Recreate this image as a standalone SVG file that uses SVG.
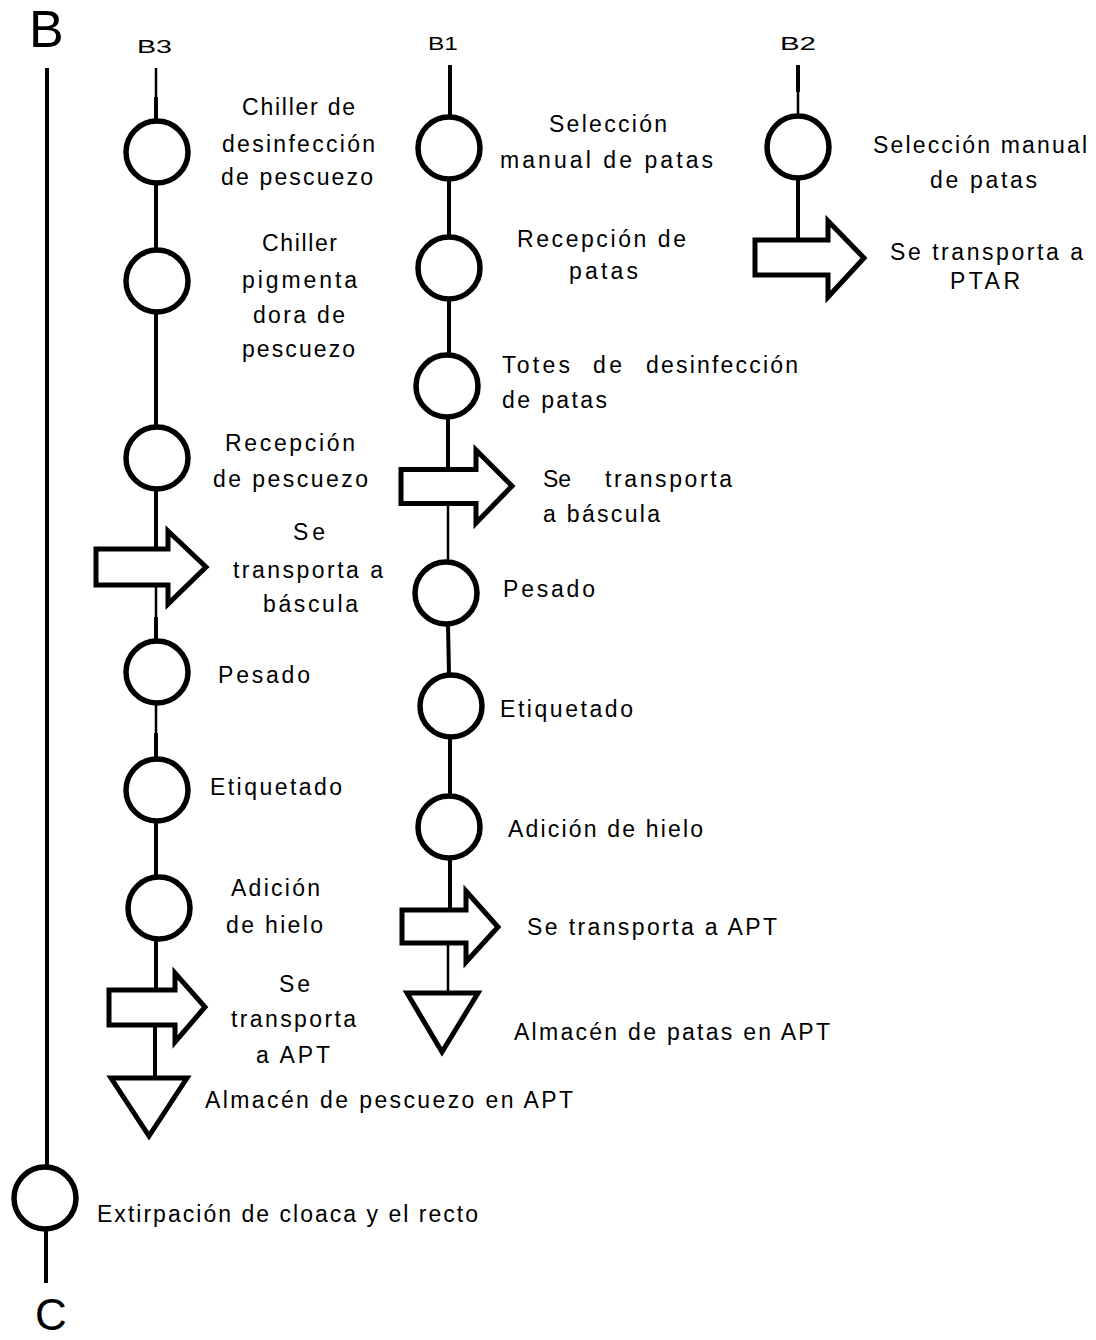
<svg xmlns="http://www.w3.org/2000/svg" width="1096" height="1340" viewBox="0 0 1096 1340">
  <style>
    .bg { fill: #ffffff; }
    .lbl { font-family: "Liberation Sans", Arial, sans-serif; font-size: 23px; fill: #000000; }
    .hdr { font-family: "Liberation Sans", Arial, sans-serif; font-size: 19px; fill: #000000; }
    .big { font-family: "Liberation Sans", Arial, sans-serif; fill: #000000; }
    .op { fill: #ffffff; stroke: #000000; stroke-width: 5.5; }
    .mv { fill: #ffffff; stroke: #000000; stroke-width: 5; stroke-linejoin: miter; stroke-miterlimit: 10; }
    .st { fill: #ffffff; stroke: #000000; stroke-width: 5; stroke-linejoin: miter; stroke-miterlimit: 10; }
    .ln { stroke: #000000; stroke-width: 4; fill: none; }
    .thin { stroke: #000000; stroke-width: 2.5; fill: none; }
  </style>

  <rect class="bg" x="0" y="0" width="1096" height="1340"/>

  <!-- column and main-line headings -->
  <g id="headings">
    <text class="big" x="29" y="47" font-size="52">B</text>
    <text class="big" x="35" y="1330" font-size="44">C</text>
    <text class="hdr" x="137" y="53" textLength="35" lengthAdjust="spacingAndGlyphs">B3</text>
    <text class="hdr" x="428" y="50" textLength="30" lengthAdjust="spacingAndGlyphs">B1</text>
    <text class="hdr" x="780" y="50" textLength="36" lengthAdjust="spacingAndGlyphs">B2</text>
  </g>

  <!-- flow lines -->
  <g id="connectors">
    <!-- main line B to C -->
    <line class="ln" x1="47" y1="68" x2="47" y2="1166"/>
    <line class="ln" x1="46" y1="1230" x2="46" y2="1283"/>

    <!-- B3 -->
    <line class="thin" x1="156" y1="68" x2="156" y2="97"/>
    <line class="ln" x1="156" y1="97" x2="156" y2="121"/>
    <line class="ln" x1="156" y1="183" x2="156" y2="250"/>
    <line class="ln" x1="156" y1="312" x2="156" y2="427"/>
    <line class="ln" x1="156" y1="489" x2="156" y2="550"/>
    <line class="thin" x1="156" y1="585" x2="156" y2="617"/>
    <line class="ln" x1="156" y1="617" x2="156" y2="641"/>
    <line class="thin" x1="156" y1="703" x2="156" y2="733"/>
    <line class="ln" x1="156" y1="733" x2="156" y2="759"/>
    <line class="ln" x1="156" y1="821" x2="156" y2="877"/>
    <line class="ln" x1="156" y1="939" x2="156" y2="991"/>
    <line class="ln" x1="155" y1="1024" x2="155" y2="1078"/>

    <!-- B1 -->
    <line class="ln" x1="450" y1="65" x2="450" y2="117"/>
    <line class="ln" x1="449" y1="179" x2="449" y2="237"/>
    <line class="ln" x1="449" y1="299" x2="449" y2="355"/>
    <line class="ln" x1="448" y1="417" x2="448" y2="470"/>
    <line class="thin" x1="448" y1="503" x2="448" y2="562"/>
    <line class="ln" x1="448" y1="624" x2="449" y2="675"/>
    <line class="ln" x1="450" y1="737" x2="450" y2="796"/>
    <line class="ln" x1="450" y1="858" x2="450" y2="911"/>
    <line class="thin" x1="448" y1="942" x2="448" y2="993"/>

    <!-- B2 -->
    <line class="ln" x1="798" y1="65" x2="798" y2="92"/>
    <line class="thin" x1="798" y1="92" x2="798" y2="116"/>
    <line class="ln" x1="798" y1="178" x2="798" y2="240"/>
  </g>

  <!-- main line -->
  <g id="main-extirpacion">
    <circle class="op" cx="45" cy="1198" r="31"/>
    <text class="lbl" x="97" y="1222" textLength="381" lengthAdjust="spacing">Extirpación de cloaca y el recto</text>
  </g>

  <!-- B3: neck line -->
  <g id="b3-chiller-desinfeccion">
    <circle class="op" cx="157" cy="152" r="31"/>
    <text class="lbl" x="242" y="115" textLength="113" lengthAdjust="spacing">Chiller de</text>
    <text class="lbl" x="222" y="152" textLength="153" lengthAdjust="spacing">desinfección</text>
    <text class="lbl" x="221" y="185" textLength="152" lengthAdjust="spacing">de pescuezo</text>
  </g>
  <g id="b3-chiller-pigmentadora">
    <circle class="op" cx="157" cy="281" r="31"/>
    <text class="lbl" x="262" y="251" textLength="75" lengthAdjust="spacing">Chiller</text>
    <text class="lbl" x="242" y="288" textLength="115" lengthAdjust="spacing">pigmenta</text>
    <text class="lbl" x="253" y="323" textLength="92" lengthAdjust="spacing">dora de</text>
    <text class="lbl" x="242" y="357" textLength="113" lengthAdjust="spacing">pescuezo</text>
  </g>
  <g id="b3-recepcion">
    <circle class="op" cx="157" cy="458" r="31"/>
    <text class="lbl" x="225" y="451" textLength="130" lengthAdjust="spacing">Recepción</text>
    <text class="lbl" x="213" y="487" textLength="155" lengthAdjust="spacing">de pescuezo</text>
  </g>
  <g id="b3-transporte-bascula">
    <polygon class="mv" points="96,549 168,549 168,531 206,567 168,604 168,585 96,585"/>
    <text class="lbl" x="293" y="540" textLength="32" lengthAdjust="spacing">Se</text>
    <text class="lbl" x="233" y="578" textLength="150" lengthAdjust="spacing">transporta a</text>
    <text class="lbl" x="263" y="612" textLength="95" lengthAdjust="spacing">báscula</text>
  </g>
  <g id="b3-pesado">
    <circle class="op" cx="157" cy="672" r="31"/>
    <text class="lbl" x="218" y="683" textLength="92" lengthAdjust="spacing">Pesado</text>
  </g>
  <g id="b3-etiquetado">
    <circle class="op" cx="157" cy="790" r="31"/>
    <text class="lbl" x="210" y="795" textLength="132" lengthAdjust="spacing">Etiquetado</text>
  </g>
  <g id="b3-hielo">
    <circle class="op" cx="159" cy="908" r="31"/>
    <text class="lbl" x="231" y="896" textLength="89" lengthAdjust="spacing">Adición</text>
    <text class="lbl" x="226" y="933" textLength="97" lengthAdjust="spacing">de hielo</text>
  </g>
  <g id="b3-transporte-apt">
    <polygon class="mv" points="109,990 175,990 175,973 205,1007 175,1042 175,1025 109,1025"/>
    <text class="lbl" x="279" y="992" textLength="31" lengthAdjust="spacing">Se</text>
    <text class="lbl" x="231" y="1027" textLength="125" lengthAdjust="spacing">transporta</text>
    <text class="lbl" x="256" y="1063" textLength="74" lengthAdjust="spacing">a APT</text>
  </g>
  <g id="b3-almacen">
    <polygon class="st" points="111,1078 187,1078 149,1136"/>
    <text class="lbl" x="205" y="1108" textLength="368" lengthAdjust="spacing">Almacén de pescuezo en APT</text>
  </g>

  <!-- B1: feet line -->
  <g id="b1-seleccion">
    <circle class="op" cx="449" cy="148" r="31"/>
    <text class="lbl" x="549" y="132" textLength="118" lengthAdjust="spacing">Selección</text>
    <text class="lbl" x="500" y="168" textLength="213" lengthAdjust="spacing">manual  de patas</text>
  </g>
  <g id="b1-recepcion">
    <circle class="op" cx="449" cy="268" r="31"/>
    <text class="lbl" x="517" y="247" textLength="169" lengthAdjust="spacing">Recepción de</text>
    <text class="lbl" x="569" y="279" textLength="69" lengthAdjust="spacing">patas</text>
  </g>
  <g id="b1-totes">
    <circle class="op" cx="447" cy="386" r="31"/>
    <text class="lbl" y="373"><tspan x="502" textLength="68" lengthAdjust="spacing">Totes</tspan><tspan x="593" textLength="29" lengthAdjust="spacing">de</tspan><tspan x="646" textLength="152" lengthAdjust="spacing">desinfección</tspan></text>
    <text class="lbl" x="502" y="408" textLength="105" lengthAdjust="spacing">de patas</text>
  </g>
  <g id="b1-transporte-bascula">
    <polygon class="mv" points="401,469.5 476,469.5 476,450 512,486 476,523 476,503.5 401,503.5"/>
    <text class="lbl" y="487"><tspan x="543">Se</tspan><tspan x="605" textLength="127" lengthAdjust="spacing">transporta</tspan></text>
    <text class="lbl" x="543" y="522" textLength="117" lengthAdjust="spacing">a báscula</text>
  </g>
  <g id="b1-pesado">
    <circle class="op" cx="446" cy="593" r="31"/>
    <text class="lbl" x="503" y="597" textLength="92" lengthAdjust="spacing">Pesado</text>
  </g>
  <g id="b1-etiquetado">
    <circle class="op" cx="451" cy="706" r="31"/>
    <text class="lbl" x="500" y="717" textLength="133" lengthAdjust="spacing">Etiquetado</text>
  </g>
  <g id="b1-hielo">
    <circle class="op" cx="449" cy="827" r="31"/>
    <text class="lbl" x="508" y="837" textLength="195" lengthAdjust="spacing">Adición de hielo</text>
  </g>
  <g id="b1-transporte-apt">
    <polygon class="mv" points="402,910 466,910 466,891 498,927 466,962 466,943 402,943"/>
    <text class="lbl" x="527" y="935" textLength="250" lengthAdjust="spacing">Se transporta a APT</text>
  </g>
  <g id="b1-almacen">
    <polygon class="st" points="407,993 478,993 442,1052"/>
    <text class="lbl" x="514" y="1040" textLength="316" lengthAdjust="spacing">Almacén de patas en APT</text>
  </g>

  <!-- B2: feet to wastewater plant -->
  <g id="b2-seleccion">
    <circle class="op" cx="798" cy="147" r="31"/>
    <text class="lbl" x="873" y="153" textLength="214" lengthAdjust="spacing">Selección manual</text>
    <text class="lbl" x="930" y="188" textLength="107" lengthAdjust="spacing">de patas</text>
  </g>
  <g id="b2-transporte-ptar">
    <polygon class="mv" points="755,240 828,240 828,221 864,258 828,297 828,275 755,275"/>
    <text class="lbl" x="890" y="260" textLength="193" lengthAdjust="spacing">Se transporta a</text>
    <text class="lbl" x="950" y="289" textLength="70" lengthAdjust="spacing">PTAR</text>
  </g>
</svg>
